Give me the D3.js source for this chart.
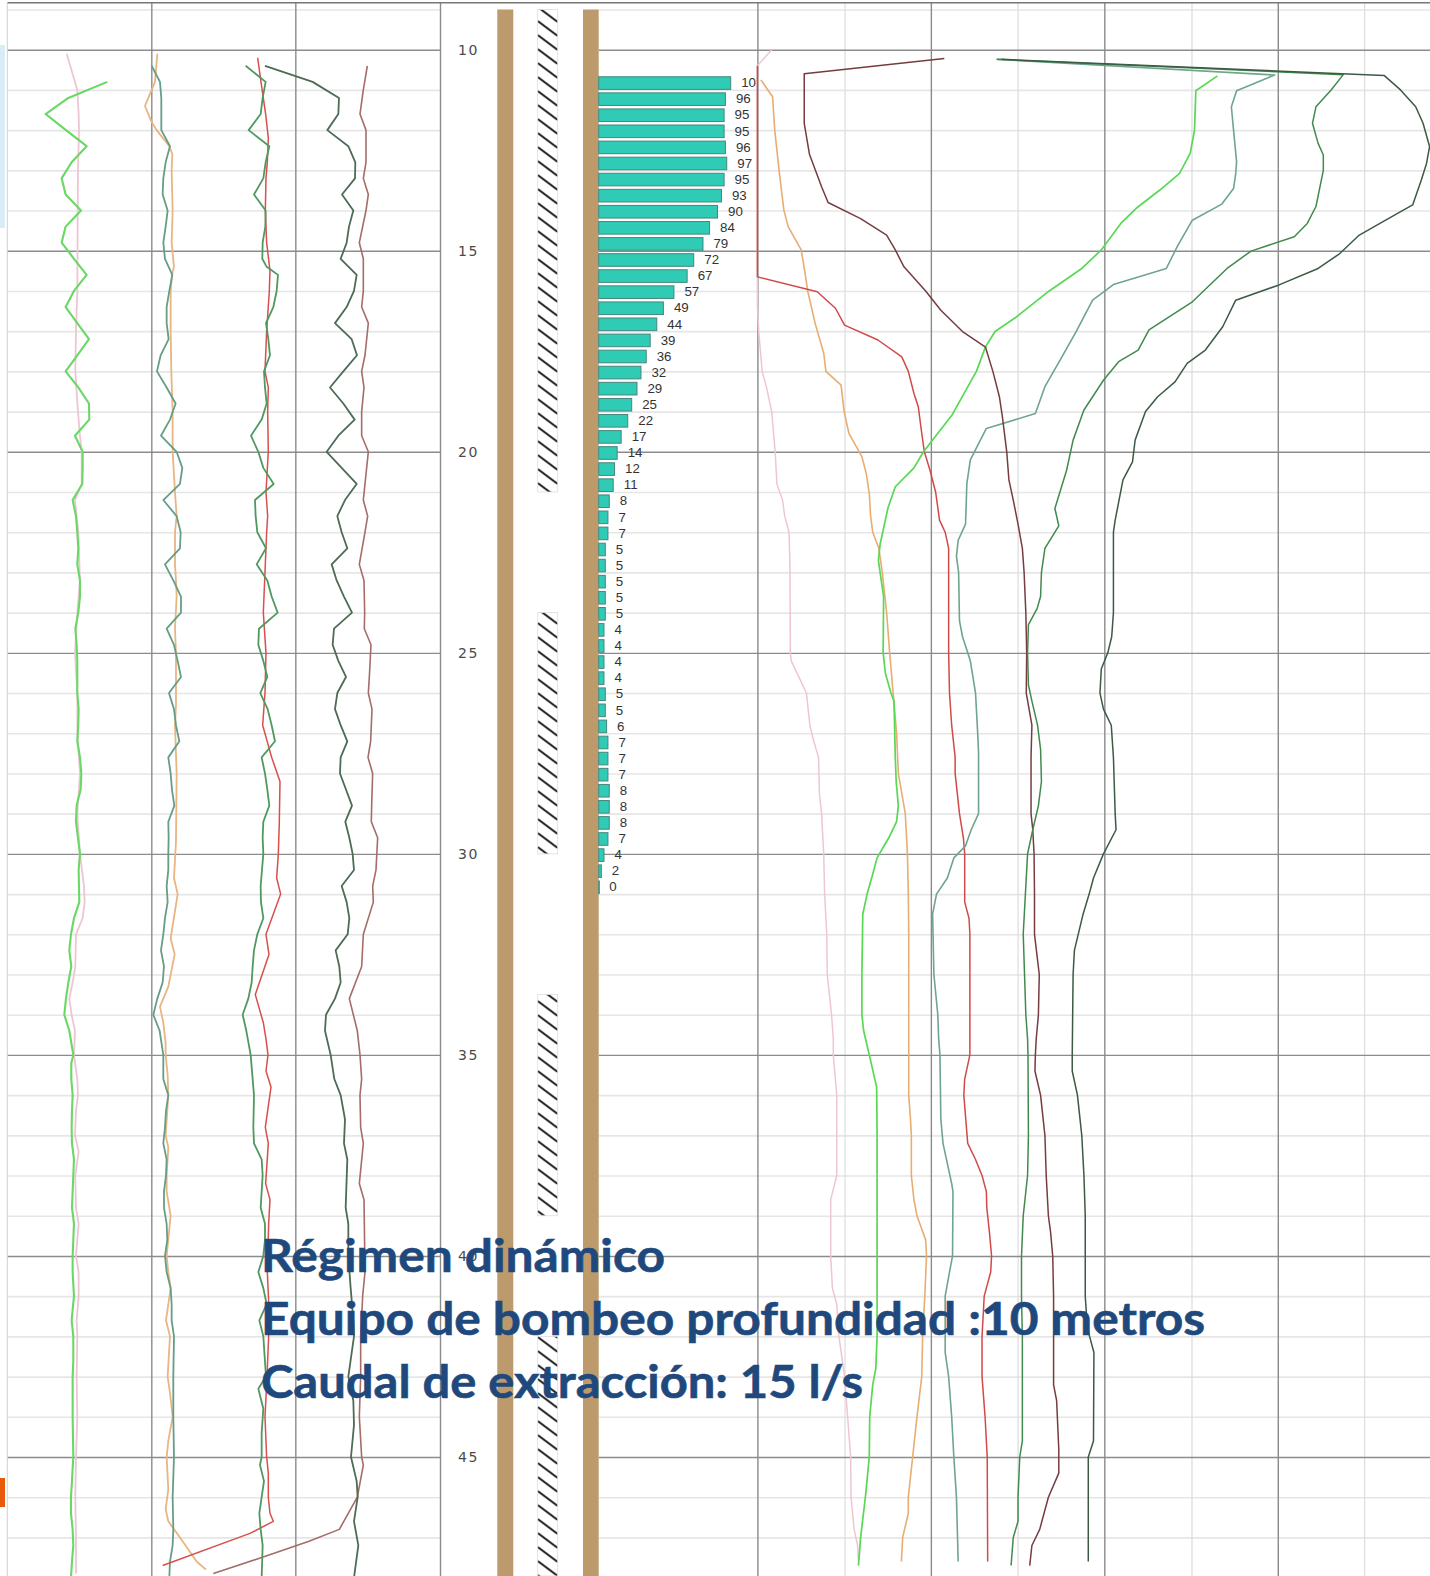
<!DOCTYPE html>
<html><head><meta charset="utf-8">
<style>html,body{margin:0;padding:0;background:#fff}svg{display:block}</style>
<script src="https://cdn.jsdelivr.net/npm/d3@7"></script></head><body>
<svg id="c" width="1430" height="1576"></svg>
<script>
const depthMajor=[10,15,20,25,30,35,40,45];
const depthMinor=[9,11,12,13,14,16,17,18,19,21,22,23,24,26,27,28,29,31,32,33,34,36,37,38,39,41,42,43,44,46,47];
const depthLabels=[10,15,20,25,30,35,40,45];
const leftMajor=[454,886,1320];
const rightMajor=[17,417,817,1217];
const rightMinor=[218,617,1018,1416];

const barValues=[100,96,95,95,96,97,95,93,90,84,79,72,67,57,49,44,39,36,32,29,25,22,17,14,12,11,8,7,7,5,5,5,5,5,4,4,4,4,5,5,6,7,7,7,8,8,8,7,4,2,0];
const barLabels=["10","96","95","95","96","97","95","93","90","84","79","72","67","57","49","44","39","36","32","29","25","22","17","14","12","11","8","7","7","5","5","5","5","5","4","4","4","4","5","5","6","7","7","7","8","8","8","7","4","2","0"];
const hatchIntervals=[[9,21],[24,30],[33.5,39],[42,48]];
const titleLines=["Régimen dinámico","Equipo de bombeo profundidad :10 metros","Caudal de extracción: 15 l/s"];

const leftLightGreen=[[10.8,322],[11.2,205],[11.6,137],[12,198],[12.4,260],[12.8,215],[13.2,185],[13.6,197],[14,243],[14.4,197],[14.8,185],[15.2,222],[15.6,260],[16,222],[16.4,197],[16.8,232],[17.2,267],[17.6,232],[18,197],[18.4,235],[18.8,267],[19.2,268],[19.6,225],[20,248],[20.4,248],[20.8,247],[21.2,218],[21.6,228],[22,232],[22.4,235],[22.8,232],[23.2,240],[23.6,240],[24,235],[24.4,226],[24.8,230],[25.2,232],[26,232],[26.4,236],[26.8,235],[27.2,232],[27.6,240],[28,244],[28.4,242],[28.8,230],[29.2,228],[29.6,234],[30,240],[30.4,236],[31.2,238],[31.6,222],[32,213],[32.4,208],[32.8,214],[33.2,205],[33.6,198],[34,193],[34.4,208],[35,220],[35.2,214],[35.6,214],[36,218],[36.4,216],[36.8,215],[37.2,216],[37.6,222],[38,220],[38.4,218],[38.8,216],[39.2,222],[39.6,220],[40,218],[40.4,218],[41,222],[41.6,215],[42,220],[42.6,220],[43,218],[44,218],[45,220],[45.6,216],[46,213],[46.4,213],[46.8,218],[47.2,220],[47.6,216],[48,213]];
const leftPink=[[10.1,200],[10.8,225],[11,232],[11.6,236],[12,237],[13,234],[16,232],[17,228],[18,226],[19,234],[19.6,240],[20,245],[20.8,245],[21.2,225],[22,235],[23.2,240],[24,232],[25,225],[26,232],[27,232],[28,240],[28.6,235],[29,232],[30,240],[30.8,252],[31.2,254],[31.6,248],[32,228],[32.8,226],[33.2,218],[33.6,208],[34,215],[34.4,225],[35,222],[35.6,232],[36,234],[36.4,228],[37,225],[37.4,236],[38,226],[38.8,228],[39.2,236],[40,228],[40.4,236],[41,236],[41.6,230],[42,232],[43,230],[44,232],[45,228],[46,226],[47,228],[47.9,228]];
const leftTeal=[[10.4,455],[10.8,480],[11.2,484],[12,484],[12.4,510],[12.8,497],[13.2,490],[13.6,488],[14,503],[14.4,497],[14.8,490],[15.2,495],[15.6,517],[16,508],[16.4,500],[16.8,500],[17.2,506],[17.6,482],[18,471],[18.4,500],[18.8,527],[19.2,510],[19.6,483],[20,530],[20.4,547],[20.8,540],[21.2,490],[21.6,530],[22,542],[22.4,540],[22.8,495],[23.2,520],[23.6,543],[24,543],[24.4,500],[24.8,522],[25.2,533],[25.6,543],[26,507],[26.4,522],[26.8,528],[27.2,538],[27.6,505],[28,512],[28.4,516],[28.8,523],[29.2,505],[29.6,506],[30,505],[30.4,505],[30.8,500],[31.2,503],[31.6,495],[32,490],[32.4,483],[32.8,492],[33.2,488],[33.6,472],[34,460],[34.4,479],[35,490],[35.6,490],[36,505],[36.4,498],[36.8,495],[37.2,490],[37.6,500],[38,498],[38.4,492],[38.8,492],[39.2,500],[39.6,502],[40,495],[40.4,500],[40.8,512],[41.2,515],[41.6,515],[42,522],[43,520],[44,520],[45,522],[46,518],[46.8,520],[47.2,518],[47.6,510],[48,508]];
const leftOrange=[[10.1,472],[10.8,465],[11.2,445],[11.4,435],[11.8,455],[12,470],[12.4,508],[12.6,517],[13,515],[14,518],[14.8,515],[15.4,522],[15.6,516],[16,512],[17,512],[18,514],[19,518],[20,518],[21,525],[21.6,530],[22,525],[22.8,525],[23.2,528],[23.6,530],[24.4,525],[25,528],[26.3,528],[26.8,525],[28,530],[29.7,528],[30.6,522],[31,533],[32.1,512],[32.5,524],[33.3,505],[33.8,480],[34.2,490],[34.7,497],[35,497],[35.5,503],[36,505],[37,497],[37.3,505],[38,500],[38.4,500],[39,512],[40,500],[40.4,505],[40.8,512],[41.6,498],[42,510],[43,503],[43.4,510],[44,518],[44.6,505],[45,500],[45.8,505],[46.3,497],[46.6,505],[47,540],[47.6,590],[47.8,618]];
const leftGreen=[[10.4,737],[10.8,797],[11.2,788],[11.6,782],[12,746],[12.4,808],[12.8,797],[13.2,790],[13.6,762],[14,797],[14.4,796],[14.8,788],[15.2,787],[15.4,800],[15.6,834],[16,830],[16.4,820],[16.8,798],[17.2,805],[17.6,810],[18,792],[18.4,795],[18.8,800],[19.2,785],[19.6,753],[20,775],[20.4,790],[20.8,821],[21.2,765],[21.6,767],[22,772],[22.4,798],[22.8,770],[23.2,802],[23.6,815],[24,833],[24.4,777],[24.8,775],[25.2,790],[25.6,802],[26,781],[26.4,803],[26.8,815],[27.2,825],[27.6,785],[28,795],[28.4,802],[28.8,808],[29.2,790],[29.6,788],[30,790],[30.4,786],[30.8,782],[31.2,783],[31.6,790],[32,772],[32.4,762],[32.8,758],[33.2,755],[33.6,745],[34,728],[34.4,739],[35,752],[36,762],[36.8,760],[37.2,762],[37.6,785],[38,788],[38.4,785],[38.8,782],[39.2,795],[39.6,795],[40,790],[40.4,775],[40.8,790],[41.2,800],[41.6,778],[42,790],[43,798],[43.3,775],[43.8,790],[44.4,785],[45,785],[45.2,780],[45.6,792],[46,785],[46.4,778],[46.8,782],[47.2,788],[48,785]];
const leftRed=[[10.2,773],[10.8,783],[11.6,797],[12.2,805],[12.8,802],[13.2,798],[14,796],[14.8,800],[15.5,810],[16,808],[17,800],[18,795],[18.4,805],[19,803],[20,805],[21,798],[21.6,803],[22,800],[24,790],[25,798],[26,795],[26.8,788],[27.6,815],[28.2,840],[29.2,838],[30,835],[30.6,830],[31,842],[32,798],[32.5,807],[33.5,766],[34.2,790],[34.6,798],[35,804],[35.4,798],[35.8,813],[36.8,796],[37.2,805],[38.2,797],[38.6,810],[39.2,806],[40.4,802],[41.5,808],[42,806],[43.2,800],[44,795],[45,800],[45.4,805],[46,805],[46.4,810],[46.6,820],[46.9,750],[47.7,488]];
const leftDarkGreen=[[10.4,795],[10.8,938],[11.2,1017],[11.6,1015],[12,982],[12.4,1045],[12.8,1066],[13.2,1065],[13.6,1026],[14,1060],[14.4,1047],[14.8,1040],[15.2,1022],[15.6,1070],[16,1062],[16.4,1040],[16.8,1005],[17.2,1055],[17.6,1071],[18,1030],[18.4,990],[18.8,1030],[19.2,1064],[19.6,1015],[20,980],[20.4,1025],[20.8,1070],[21.2,1035],[21.6,1012],[22,1025],[22.4,1042],[22.8,995],[23.2,1010],[23.6,1032],[24,1056],[24.4,1002],[24.8,998],[25.2,1015],[25.6,1038],[26,1012],[26.4,1005],[26.8,1022],[27.2,1042],[27.6,1022],[28,1020],[28.4,1038],[28.8,1056],[29.2,1036],[29.6,1048],[30,1058],[30.4,1062],[30.8,1025],[31.2,1040],[31.6,1048],[32,1043],[32.4,1007],[32.8,1018],[33.2,1022],[33.6,1005],[34,978],[34.4,975],[35,992],[35.6,1003],[36,1022],[36.6,1035],[37.2,1032],[37.6,1042],[38.8,1037],[39.2,1045],[40,1045],[40.8,1052],[41.6,1060],[42,1062],[43,1045],[43.6,1060],[44.2,1062],[45,1053],[45.6,1070],[46,1073],[46.6,1062],[47.2,1075],[48,1062]];
const leftBrown=[[10.4,1102],[11,1090],[11.6,1080],[12,1098],[12.8,1098],[13.2,1090],[13.6,1105],[14,1098],[14.8,1078],[15.2,1090],[16,1090],[16.4,1085],[16.8,1105],[17.6,1095],[18,1085],[18.4,1092],[19,1085],[19.6,1085],[20,1105],[20.8,1095],[21.2,1090],[21.6,1103],[22,1095],[22.8,1078],[23.2,1092],[24,1094],[24.4,1093],[24.8,1113],[25.6,1108],[26,1105],[26.4,1116],[27.2,1112],[27.6,1104],[28,1118],[28.8,1115],[29.2,1114],[29.6,1133],[30.4,1128],[30.8,1118],[31.2,1120],[32,1090],[32.8,1085],[33.6,1048],[34.4,1072],[35,1080],[35.6,1085],[36,1080],[36.8,1082],[37.2,1090],[38.2,1078],[38.6,1092],[40.4,1095],[41,1088],[42,1082],[43,1082],[44,1078],[45,1085],[45.2,1090],[46,1072],[46.8,1018],[47.1,925],[47.5,785],[47.9,640]];

const rightPink=[[10,50],[10.4,17],[16.4,17],[17,20],[18,28],[18.4,38],[19,50],[20,58],[20.8,62],[21.2,75],[21.6,80],[22,90],[22.8,92],[25,93],[25.2,95],[26,130],[26.8,138],[27.2,147],[27.6,158],[28.5,160],[29,165],[30,170],[31,172],[32,177],[33,178],[34,188],[34.6,192],[35,192],[36,200],[38,200],[38.6,186],[40,186],[40.8,190],[41.2,200],[42,205],[43,218],[44,225],[45,232],[46,233],[46.8,240],[47.2,248],[47.6,250]];
const rightRed=[[10.4,17],[15.65,17],[16.02,155],[16.43,197],[16.85,218],[17.22,295],[17.64,350],[18,365],[18.55,378],[18.88,388],[19.46,395],[20,402],[20.46,415],[21,428],[21.7,437],[22,450],[22.4,458],[25,458],[26,460],[26.8,465],[27.6,473],[28,473],[29,483],[29.6,492],[30,495],[31.2,495],[31.6,505],[32,507],[35,507],[35.6,495],[36,493],[37.2,502],[37.6,520],[38,535],[38.4,545],[38.8,546],[39.4,552],[40,557],[40.4,555],[41,540],[42,535],[43,535],[44,542],[45,547],[47.6,548]];
const rightOrange=[[10.75,25],[11.17,52],[12,57],[13,67],[13.99,78],[14.4,88],[14.98,118],[15.56,127],[16,133],[16.8,150],[17.55,170],[18,175],[18.34,210],[19,217],[19.54,228],[20.12,258],[20.54,268],[21.04,275],[21.6,278],[22,283],[22.4,297],[23,305],[24,315],[25,322],[26,330],[27,338],[28,342],[29,358],[30,363],[31,365],[32,366],[36,366],[36.6,370],[37,372],[38,372],[38.6,378],[39,385],[39.6,405],[40,407],[41,403],[42,398],[43,396],[44,385],[45,375],[46,365],[46.4,365],[47,352],[47.6,349]];
const rightLightGreen=[[10.65,1078],[11.02,1028],[12,1025],[12.58,1015],[13.08,990],[13.49,945],[13.95,890],[14.32,855],[14.98,810],[15.44,765],[16,690],[16.64,615],[17.01,565],[17.39,543],[18,522],[19.1,465],[20,400],[20.4,378],[20.87,335],[21.4,318],[21.8,310],[22.3,300],[22.7,296],[23.6,308],[25,307],[25.5,312],[26,325],[26.2,332],[27.6,335],[28.2,337],[28.8,342],[29.2,338],[29.6,320],[30.1,293],[30.5,283],[31,270],[31.5,260],[33,258],[34,258],[34.4,262],[35,275],[35.8,292],[37,293],[42,293],[42.8,290],[43.2,283],[44,276],[45,275],[46,266],[47,255],[47.7,250]];
const rightTeal=[[10.24,568],[10.63,1210],[11.02,1122],[11.42,1110],[12,1115],[12.79,1122],[13.08,1120],[13.45,1115],[13.84,1088],[14.24,1020],[14.9,985],[15.44,960],[15.84,838],[16.23,790],[17.01,752],[17.72,715],[18.38,680],[19.05,658],[19.42,545],[20.2,508],[20.79,500],[21.8,497],[22.2,480],[22.6,476],[23,481],[24.2,483],[24.6,490],[25.2,508],[26,520],[26.4,522],[27,525],[27.5,527],[29,527],[29.4,510],[29.8,497],[30.1,470],[30.6,455],[31,430],[31.5,421],[33,424],[34,433],[34.6,435],[35,438],[36.6,440],[37.2,445],[38.2,465],[38.4,468],[40,467],[40.4,460],[41,450],[42.4,450],[43,458],[44,465],[45,470],[46,476],[47.6,480]];
const rightDarkBrown=[[10.22,448],[10.6,125],[11.83,125],[12.6,137],[13.41,165],[13.8,180],[14.2,255],[14.61,315],[14.98,335],[15.4,355],[16,405],[16.48,440],[17.01,490],[17.4,543],[18,560],[18.63,575],[19.13,582],[20,592],[20.7,597],[21.2,607],[21.8,618],[22.4,628],[23,632],[24,636],[25,638],[26,637],[26.8,650],[27.6,648],[29,648],[29.4,652],[30,655],[31,656],[32,656],[33,667],[34,665],[34.6,660],[35,658],[35.4,657],[36,670],[37,680],[38,683],[39,688],[39.4,693],[40,698],[41,700],[43.2,700],[43.6,707],[44.8,712],[45.4,712],[46,688],[46.8,668],[47.2,650],[47.7,645]];
const rightGreen=[[10.24,570],[10.62,1368],[11,1340],[11.42,1305],[11.83,1297],[12.33,1310],[12.62,1322],[13,1322],[13.9,1305],[14.32,1285],[14.65,1255],[15.01,1155],[15.44,1100],[16.27,1020],[16.97,920],[17.47,895],[17.76,850],[18.22,815],[18.96,770],[19.71,745],[20.46,730],[21.41,703],[21.84,712],[22.4,680],[23,672],[23.6,670],[23.9,662],[24.3,642],[25,640],[25.8,642],[26.2,650],[26.8,663],[27.4,670],[28.2,672],[28.8,665],[29.4,652],[30,640],[31,635],[32,630],[33,633],[34,636],[34.6,640],[35,641],[37,642],[38,640],[39,630],[40,626],[41,626],[42,628],[44.6,628],[45,622],[46,618],[46.6,618],[47,607],[47.7,602]];
const rightDarkest=[[10.24,580],[10.64,1462],[11,1500],[11.42,1535],[11.83,1552],[12.41,1567],[12.83,1560],[13.24,1548],[13.86,1528],[14.15,1480],[14.61,1405],[15.07,1360],[15.44,1310],[15.85,1220],[16.23,1120],[16.89,1090],[17.47,1050],[17.8,1008],[18.26,980],[18.63,940],[19,912],[19.71,888],[20.25,882],[20.7,860],[21.7,842],[22,838],[24,838],[24.6,834],[25,825],[25.4,810],[26,807],[26.4,815],[26.8,833],[27.6,838],[29,842],[29.4,844],[30,815],[30.6,792],[31,782],[31.5,768],[32.4,748],[33,745],[35,743],[35.4,743],[36,755],[37,765],[38,770],[39,773],[41,773],[41.8,778],[42.4,793],[44.6,792],[45,780],[47.6,780]];

const leftSeries=[[leftPink,"#eec6d2",1.8],[leftOrange,"#e8b583",1.8],[leftLightGreen,"#6ad866",2.1],[leftTeal,"#659e85",1.8],[leftRed,"#d6504c",1.5],[leftGreen,"#4f9960",1.8],[leftBrown,"#a56c68",1.6],[leftDarkGreen,"#4d6b55",1.8]];
const rightSeries=[[rightPink,"#eec6d2",1.5],[rightOrange,"#e8ad72",1.6],[rightRed,"#d04a48",1.5],[rightLightGreen,"#58d854",1.7],[rightTeal,"#6fa58c",1.6],[rightDarkBrown,"#763c40",1.5],[rightGreen,"#418a4e",1.5],[rightDarkest,"#3c5a44",1.5]];

const W=1430,H=1576;
const svg=d3.select("#c");
const y=d3.scaleLinear().domain([10,45]).range([49.7,1457]);
const xL=d3.scaleLinear().domain([22,1320]).range([7.3,440]);
const xR=d3.scaleLinear().domain([17,1568]).range([757.4,1430]);
const xB=d3.scaleLinear().domain([0,100]).range([598.7,730.7]);

function hgrid(x0,x1,ticks,color,width){
  const g=svg.append("g").attr("transform",`translate(${x0},0)`);
  g.call(d3.axisLeft(y).tickValues(ticks).tickFormat("").tickSize(-(x1-x0)));
  g.select(".domain").remove();
  g.selectAll(".tick line").attr("stroke",color).attr("stroke-width",width);
}
function vgrid(scale,ticks,color,width){
  const g=svg.append("g").attr("transform",`translate(0,2)`);
  g.call(d3.axisBottom(scale).tickValues(ticks).tickFormat("").tickSize(H));
  g.select(".domain").remove();
  g.selectAll(".tick line").attr("stroke",color).attr("stroke-width",width);
}
svg.append("rect").attr("x",0).attr("y",45).attr("width",5).attr("height",183).attr("fill","#d9eef4");
svg.append("rect").attr("x",0).attr("y",1478).attr("width",5).attr("height",29).attr("fill","#e8590c");

hgrid(7.3,440,depthMinor,"#e6e6e6",1.6);
hgrid(598.7,W,depthMinor,"#e6e6e6",1.6);
vgrid(xR,rightMinor,"#dcdcdc",1.2);
hgrid(7.3,440,depthMajor,"#8c8c8c",1.4);
hgrid(598.7,W,depthMajor,"#8c8c8c",1.4);
vgrid(xL,leftMajor,"#8a8a8a",1.4);
vgrid(xR,rightMajor,"#8a8a8a",1.4);
svg.append("line").attr("x1",7.3).attr("x2",W).attr("y1",2.7).attr("y2",2.7).attr("stroke","#777").attr("stroke-width",1.4);
svg.append("line").attr("x1",7.3).attr("x2",7.3).attr("y1",2.7).attr("y2",H).attr("stroke","#d0d0d0").attr("stroke-width",1);

const lg=svg.append("g").attr("transform","translate(440,0)");
lg.call(d3.axisRight(y).tickValues(depthLabels).tickSize(0).tickPadding(18));
lg.select(".domain").remove();
lg.selectAll("text").attr("font-family","DejaVu Sans").attr("font-size",14).attr("fill","#4a4a4a").attr("letter-spacing",1.6).attr("dy","0.32em");

// casing
[[497.3,513.3],[583,598.7]].forEach(([a,b])=>svg.append("rect").attr("x",a).attr("y",y(9)).attr("width",b-a).attr("height",H-y(9)).attr("fill","#bc9a6b"));

// screen hatch
const defs=svg.append("defs");
const pat=defs.append("pattern").attr("id","h").attr("patternUnits","userSpaceOnUse").attr("width",20).attr("height",14).attr("x",537.7).attr("y",7);
[-14,0,14].forEach(o=>pat.append("line").attr("x1",0).attr("y1",o).attr("x2",20).attr("y2",o+15).attr("stroke","#222").attr("stroke-width",2));
hatchIntervals.forEach(([a,b])=>{
  svg.append("rect").attr("x",537.7).attr("width",20).attr("y",y(a)).attr("height",Math.min(y(b),H)-y(a)).attr("fill","url(#h)").attr("stroke","#ddd").attr("stroke-width",.8);
});

// bars
const barDepth=i=>10.83+i*0.4;
const barH=0.3137;
const bars=svg.append("g");
bars.selectAll("rect").data(barValues).join("rect")
  .attr("x",xB(0)).attr("y",(d,i)=>y(barDepth(i)-barH/2)).attr("height",y(barH)-y(0))
  .attr("width",d=>Math.max(xB(d)-xB(0),0.6))
  .attr("fill","#2fcbb5").attr("stroke","#44877e").attr("stroke-width",1);
bars.selectAll("text").data(barLabels).join("text")
  .attr("x",(d,i)=>xB(barValues[i])+10.5).attr("y",(d,i)=>y(barDepth(i))+4.2)
  .attr("font-family","Liberation Sans").attr("font-size",13.3).attr("fill","#333").text(d=>d);

// profile lines
function drawSeries(list,xs){
  const line=d3.line().x(d=>xs(d[1])).y(d=>y(d[0]));
  svg.append("g").selectAll("path").data(list).join("path")
    .attr("d",d=>line(d[0])).attr("fill","none").attr("stroke",d=>d[1]).attr("stroke-width",d=>d[2]).attr("stroke-linejoin","round");
}
drawSeries(leftSeries,xL);
drawSeries(rightSeries,xR);

// title
const titleW=[404,944,602];
const titleY=[1272,1335,1398];
svg.append("g").selectAll("text").data(titleLines).join("text")
  .attr("x",261).attr("y",(d,i)=>titleY[i]).attr("textLength",(d,i)=>titleW[i]).attr("lengthAdjust","spacingAndGlyphs")
  .attr("font-family","Lato").attr("font-weight",700).attr("font-size",46).attr("fill","#1f497d")
  .attr("stroke","#1f497d").attr("stroke-width",0.6).text(d=>d);
</script></body></html>
